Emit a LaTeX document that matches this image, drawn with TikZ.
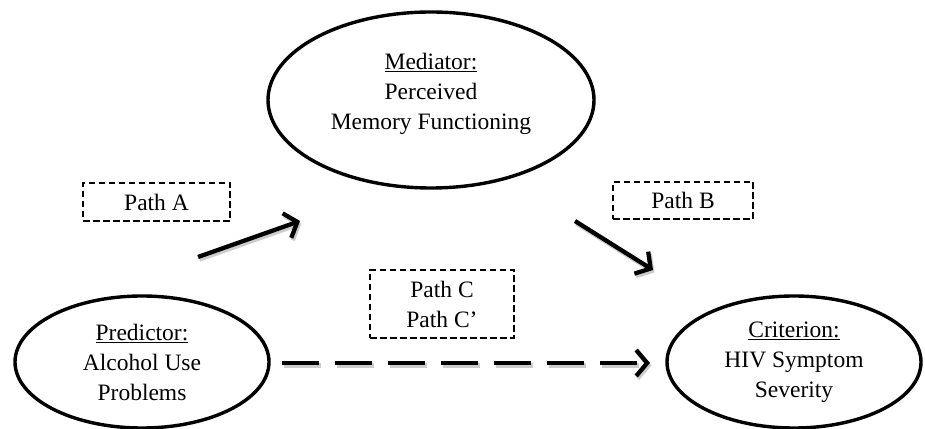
\documentclass[tikz,border=0pt]{standalone}
\usepackage{fontspec}
\setmainfont{Liberation Serif}
\usetikzlibrary{shapes.geometric,arrows.meta}

\begin{document}
\begin{tikzpicture}[x=1pt,y=1pt,
                    var/.style={ellipse, draw, line width=3.4pt, inner sep=0pt, align=center,
                                font=\fontsize{23.5}{30}\selectfont},
                    pathbox/.style={draw, line width=2.6pt, dash pattern=on 6.5pt off 3.5pt,
                                inner sep=0pt, align=center, font=\fontsize{23.5}{30}\selectfont},
                    effect/.style={line width=4.3pt, -{Straight Barb[length=11pt,width=26pt]}},
                   ]

\useasboundingbox (0,0) rectangle (925,428);

% variables
\node[var, minimum width=326pt, minimum height=176pt] (med) at (431,328)
     {\underline{Mediator:}\\Perceived\\Memory Functioning\\[-12pt]\mbox{}};
\node[var, minimum width=254pt, minimum height=132pt] (pred) at (142,66)
     {\underline{Predictor:}\\Alcohol Use\\Problems};
\node[var, minimum width=254pt, minimum height=132pt] (crit) at (794,66)
     {\underline{Criterion:}\\HIV Symptom\\Severity};

% path labels
\node[pathbox, minimum width=147pt, minimum height=38pt] (pa) at (156.5,226) {Path A};
\node[pathbox, minimum width=140pt, minimum height=37pt] (pb) at (683,227.5) {Path B};
\node[pathbox, minimum width=144pt, minimum height=68pt] (pc) at (442,124) {Path C\\Path C'};

% arrows
\coordinate (a0) at (198,171);
\coordinate (a1) at (300,207);
\coordinate (b0) at (575,207);
\coordinate (b1) at (653,158);
\coordinate (c0) at (282,65);
\coordinate (c1) at (650,65);

\foreach \col/\dx/\dy in {gray!40/1.5/-2.5, black/0/0}{
  \draw[effect, \col, transform canvas={xshift=\dx pt, yshift=\dy pt}] (a0) -- (a1);
  \draw[effect, \col, transform canvas={xshift=\dx pt, yshift=\dy pt}] (b0) -- (b1);
  \draw[effect, \col, dash pattern=on 37pt off 16pt,
        transform canvas={xshift=\dx pt, yshift=\dy pt}] (c0) -- (c1);
}

\end{tikzpicture}
\end{document}
